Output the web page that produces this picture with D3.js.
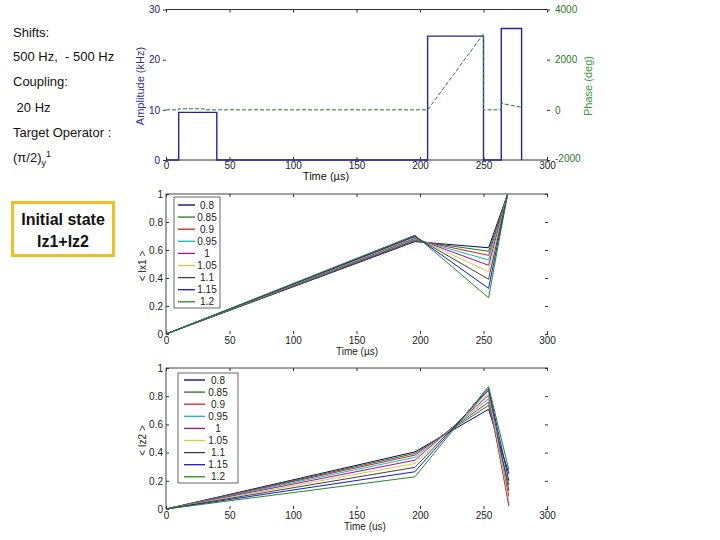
<!DOCTYPE html>
<html><head><meta charset="utf-8">
<script src="https://cdn.jsdelivr.net/npm/d3@7"></script>
<style>
body{margin:0;background:#fff;}
svg{font-family:"Liberation Sans",Arial,sans-serif;}
</style></head>
<body><svg id="c" width="720" height="540"></svg>
<script>
// ---------- data ----------
const xTicks = [0,50,100,150,200,250,300];
const ampTicks = [0,10,20,30];
const phaseTicks = [-2000,0,2000,4000];
const fracTicks = [0,0.2,0.4,0.6,0.8,1];

const ampTime   = [0,10,10,40,40,206,206,250,250,264,264,280,280];
const ampValues = [0,0,9.5,9.5,0,0,24.7,24.7,0,0,26.2,26.2,0];
const phaseTime   = [0,10,10,30,30,206,250,250,264,264,280];
const phaseValues = [0,0,40,40,0,0,3030,0,0,260,100];

const scaleLabels = ["0.8","0.85","0.9","0.95","1","1.05","1.1","1.15","1.2"];
const seriesColors = ["#000080","#1a7a1a","#d02020","#10b8c8","#a010a0","#d8c840","#404040","#1818c8","#208a20"];

const ix1Time = [0,196,254,269];
const ix1At196 = [0.660,0.666,0.672,0.678,0.684,0.690,0.695,0.700,0.706];
const ix1At254 = [0.616,0.591,0.562,0.529,0.491,0.445,0.391,0.326,0.259];
const ix1At269 = [1,1,1,1,1,1,1,1,1];

const iz2Time = [0,196,254,270];
const iz2At196 = [0.405,0.394,0.382,0.366,0.346,0.323,0.295,0.264,0.228];
const iz2At254 = [0.707,0.735,0.758,0.782,0.806,0.822,0.841,0.855,0.869];
const iz2At270 = [0.25,0.17,0.09,0.04,0.02,0.05,0.13,0.20,0.276];

const infoLines = ["Shifts:","500 Hz,  - 500 Hz","Coupling:"," 20 Hz","Target Operator :"];

// ---------- drawing ----------
const svg = d3.select("#c");
const x = d3.scaleLinear().domain([0,300]).range([166,547]);

// left text
infoLines.forEach((t,i)=>{
  svg.append("text").attr("x",13).attr("y",[37,61,86,112,137][i])
    .attr("font-size",13).attr("fill","#111").attr("xml:space","preserve").text(t);
});
const op = svg.append("text").attr("x",13).attr("y",162).attr("font-size",13).attr("fill","#111");
op.append("tspan").text("(π/2)");
op.append("tspan").attr("font-size",9).attr("dy",4).text("y");
op.append("tspan").attr("font-size",9).attr("dy",-9).text("1");

svg.append("rect").attr("x",12.5).attr("y",202.5).attr("width",101).attr("height",53)
  .attr("fill","#fff").attr("stroke","#f0c020").attr("stroke-width",3);
svg.append("text").attr("x",63).attr("y",225).attr("text-anchor","middle")
  .attr("font-size",16).attr("font-weight","bold").attr("fill","#111").text("Initial state");
svg.append("text").attr("x",63).attr("y",247).attr("text-anchor","middle")
  .attr("font-size",16).attr("font-weight","bold").attr("fill","#111").text("Iz1+Iz2");

function styleAxis(g, color){
  g.select(".domain").remove();
  g.selectAll(".tick line").attr("stroke","#333");
  g.selectAll(".tick text").attr("font-size",10).attr("fill",color).attr("font-family","Liberation Sans, Arial, sans-serif");
}
const intFmt = d => String(Math.round(d));

// ---------- top chart ----------
const yA = d3.scaleLinear().domain([0,30]).range([160,9.5]);
const yP = d3.scaleLinear().domain([-2000,4000]).range([160,9.5]);
const topG = svg.append("g");
topG.append("line").attr("x1",166).attr("x2",547).attr("y1",yA(30)).attr("y2",yA(30)).attr("stroke","#333");
topG.append("line").attr("x1",166).attr("x2",547).attr("y1",yA(0)).attr("y2",yA(0)).attr("stroke","#333");
let g = topG.append("g").attr("transform",`translate(0,${yA(0)})`)
  .call(d3.axisBottom(x).tickValues(xTicks).tickSizeInner(-3).tickSizeOuter(0).tickPadding(2).tickFormat(intFmt));
styleAxis(g,"#222");
g = topG.append("g").attr("transform",`translate(0,${yA(30)})`)
  .call(d3.axisTop(x).tickValues(xTicks).tickSizeInner(-3).tickSizeOuter(0).tickFormat(""));
styleAxis(g,"#222");
g = topG.append("g").attr("transform",`translate(166,0)`)
  .call(d3.axisLeft(yA).tickValues(ampTicks).tickSizeInner(3).tickSizeOuter(0).tickPadding(3).tickFormat(intFmt));
styleAxis(g,"#1a1a70");
g = topG.append("g").attr("transform",`translate(547,0)`)
  .call(d3.axisRight(yP).tickValues(phaseTicks).tickSizeInner(3).tickSizeOuter(0).tickPadding(5).tickFormat(intFmt));
styleAxis(g,"#2a7a2a");
g.selectAll(".tick text").filter(d=>d===-2000).attr("dy","0.1em");

const ampLine = d3.line().x((d,i)=>x(ampTime[i])).y(d=>yA(d));
topG.append("path").attr("d",ampLine(ampValues)).attr("fill","none").attr("stroke","#2424a8").attr("stroke-width",1.4);
const phLine = d3.line().x((d,i)=>x(phaseTime[i])).y(d=>yP(d));
topG.append("path").attr("d",phLine(phaseValues)).attr("fill","none").attr("stroke","#2a7a2a")
  .attr("stroke-width",1).attr("stroke-dasharray","4,2");

topG.append("text").attr("transform","translate(144,86) rotate(-90)").attr("text-anchor","middle")
  .attr("font-size",11).attr("fill","#33339a").text("Amplitude (kHz)");
topG.append("text").attr("transform","translate(592,86) rotate(-90)").attr("text-anchor","middle")
  .attr("font-size",11).attr("fill","#3a9a3a").text("Phase (deg)");
topG.append("text").attr("x",326).attr("y",180).attr("text-anchor","middle")
  .attr("font-size",11).attr("fill","#111").text("Time (µs)");

// ---------- lower charts ----------
function fracChart(y0, y1, times, cols, ylabel, xlabel, xlabX, legend){
  const y = d3.scaleLinear().domain([0,1]).range([y0,y1]);
  const c = svg.append("g");
  c.append("line").attr("x1",166).attr("x2",548).attr("y1",y(1)).attr("y2",y(1)).attr("stroke","#444");
  c.append("line").attr("x1",166).attr("x2",166).attr("y1",y(1)).attr("y2",y(0)).attr("stroke","#444");
  let a = c.append("g").attr("transform",`translate(0,${y(0)})`)
    .call(d3.axisBottom(x).tickValues(xTicks).tickSizeInner(-3).tickSizeOuter(0).tickPadding(3).tickFormat(intFmt));
  styleAxis(a,"#222");
  a = c.append("g").attr("transform",`translate(0,${y(1)})`)
    .call(d3.axisTop(x).tickValues(xTicks).tickSizeInner(-3).tickSizeOuter(0).tickFormat(""));
  styleAxis(a,"#222");
  a = c.append("g").attr("transform",`translate(166,0)`)
    .call(d3.axisLeft(y).tickValues(fracTicks).tickSizeInner(-3).tickSizeOuter(0).tickPadding(3).tickFormat(d=>d===0||d===1?intFmt(d):d3.format(".1f")(d)));
  styleAxis(a,"#222");
  a = c.append("g").attr("transform",`translate(548,0)`)
    .call(d3.axisRight(y).tickValues(fracTicks).tickSizeInner(-3).tickSizeOuter(0).tickFormat(""));
  styleAxis(a,"#222");

  const clipId = "clip"+y0;
  svg.append("clipPath").attr("id",clipId).append("rect")
    .attr("x",166).attr("y",y(1)-0.5).attr("width",382).attr("height",y(0)-y(1)+1);
  const line = d3.line().x((d,i)=>x(times[i])).y(d=>y(d));
  const lg = c.append("g").attr("clip-path",`url(#${clipId})`);
  scaleLabels.forEach((lab,k)=>{
    const vals = [0, cols[0][k], cols[1][k], cols[2][k]];
    lg.append("path").attr("d",line(vals)).attr("fill","none").attr("stroke",seriesColors[k]).attr("stroke-width",1);
  });

  // legend
  const L = legend;
  c.append("rect").attr("x",L.x0).attr("y",L.y0).attr("width",L.x1-L.x0).attr("height",L.y1-L.y0)
    .attr("fill","#fff").attr("stroke","#444").attr("stroke-width",0.8);
  scaleLabels.forEach((lab,k)=>{
    const yy = L.first + k*L.step;
    c.append("line").attr("x1",L.s0).attr("x2",L.s1).attr("y1",yy).attr("y2",yy)
      .attr("stroke",seriesColors[k]).attr("stroke-width",1.3);
    c.append("text").attr("x",L.tx).attr("y",yy+3.5).attr("text-anchor","middle")
      .attr("font-size",10).attr("fill","#222").text(lab);
  });

  c.append("text").attr("transform",`translate(146,${(y0+y1)/2+2}) rotate(-90)`).attr("text-anchor","middle")
    .attr("font-size",10).attr("fill","#222").attr("xml:space","preserve").text(ylabel);
  c.append("text").attr("x",xlabX).attr("y",y0+21).attr("text-anchor","middle")
    .attr("font-size",10).attr("fill","#222").text(xlabel);
}

fracChart(334, 194, ix1Time, [ix1At196, ix1At254, ix1At269], "< Ix1 >", "Time (µs)", 357,
  {x0:174,x1:220,y0:197,y1:308,first:205,step:12.1,s0:178,s1:195,tx:207});
fracChart(509, 368, iz2Time, [iz2At196, iz2At254, iz2At270], "< Iz2 >", "Time (us)", 365,
  {x0:178,x1:238,y0:373,y1:483,first:380,step:12.1,s0:184,s1:205,tx:218});
</script></body></html>
